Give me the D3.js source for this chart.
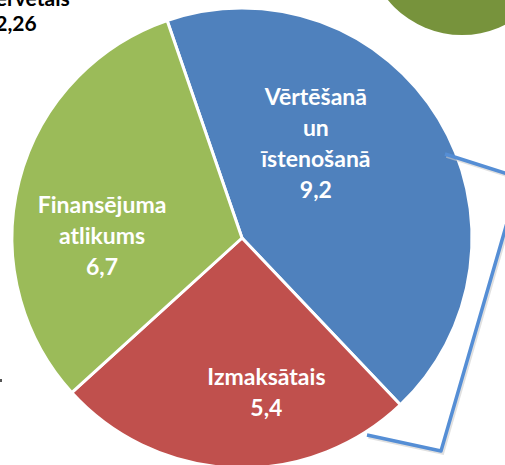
<!DOCTYPE html>
<html>
<head>
<meta charset="utf-8">
<script src="https://cdn.jsdelivr.net/npm/d3@7"></script>
<style>
  html, body { margin: 0; padding: 0; background: #fff; }
  svg { display: block; }
</style>
</head>
<body>
<div id="chart"></div>
<script>
// slice data
const categories = ["Vērtēšanā un īstenošanā", "Izmaksātais", "Finansējuma atlikums"];
const values = [9.2, 5.4, 6.7];
const valueLabels = ["9,2", "5,4", "6,7"];
const labelLines = [["Vērtēšanā", "un", "īstenošanā"], ["Izmaksātais"], ["Finansējuma", "atlikums"]];
const colors = ["#4F81BD", "#C0504D", "#9BBB59"];
// label placement: angle (deg from top, clockwise) and distance from centre
const labelAngle = [38, 171, 271];
const labelDist = [120, 156, 140];

const width = 505, height = 465;
const cx = 242, cy = 238, radius = 230;

const svg = d3.select("#chart").append("svg")
    .attr("width", width)
    .attr("height", height);

// olive circle peeking in at top right
svg.append("circle")
    .attr("cx", 462).attr("cy", -61).attr("r", 96)
    .attr("fill", "#77933C");

const pie = d3.pie()
    .sort(null)
    .startAngle(-19 * Math.PI / 180)
    .endAngle((360 - 19) * Math.PI / 180);

const arc = d3.arc().innerRadius(0).outerRadius(radius);

const g = svg.append("g").attr("transform", `translate(${cx},${cy})`);

g.selectAll("path")
    .data(pie(values))
    .enter()
    .append("path")
    .attr("d", arc)
    .attr("fill", (d, i) => colors[i])
    .attr("stroke", "#fff")
    .attr("stroke-width", 3)
    .attr("stroke-linejoin", "round");

// slice labels
const lineH = 31;
const font = "Lato, 'Open Sans', sans-serif";
categories.forEach((c, i) => {
    const a = labelAngle[i] * Math.PI / 180;
    const x = Math.sin(a) * labelDist[i];
    const y = -Math.cos(a) * labelDist[i];
    const lines = labelLines[i].concat([valueLabels[i]]);
    const t = g.append("text")
        .attr("text-anchor", "middle")
        .attr("fill", "#fff")
        .attr("font-family", font)
        .attr("font-weight", "bold")
        .attr("font-size", 23);
    const y0 = y - (lines.length - 1) * lineH / 2 + 8;
    lines.forEach((ln, j) => {
        t.append("tspan").attr("x", x).attr("y", y0 + j * lineH).text(ln);
    });
});

// cut-off label at top left
const tl = svg.append("text")
    .attr("text-anchor", "middle")
    .attr("fill", "#000")
    .attr("font-family", font)
    .attr("font-weight", "bold")
    .attr("font-size", 21);
tl.append("tspan").attr("x", 16).attr("y", 6).text("Rezervētais");
tl.append("tspan").attr("x", 16).attr("y", 31).text("2,26");

// stray mark at left edge
svg.append("rect").attr("x", 0).attr("y", 379).attr("width", 2).attr("height", 3).attr("fill", "#555");

// bracket callout
const bracket = [[445, 154], [520, 178], [441, 451], [367, 435]];
const line = d3.line();
svg.append("path")
    .attr("d", line(bracket.map(p => [p[0] + 1.5, p[1] + 2])))
    .attr("fill", "none")
    .attr("stroke", "#ccc")
    .attr("stroke-width", 3.5)
    .attr("opacity", 0.6);
svg.append("path")
    .attr("d", line(bracket))
    .attr("fill", "none")
    .attr("stroke", "#558ED5")
    .attr("stroke-width", 3.5)
    .attr("stroke-linejoin", "round");
</script>
</body>
</html>
